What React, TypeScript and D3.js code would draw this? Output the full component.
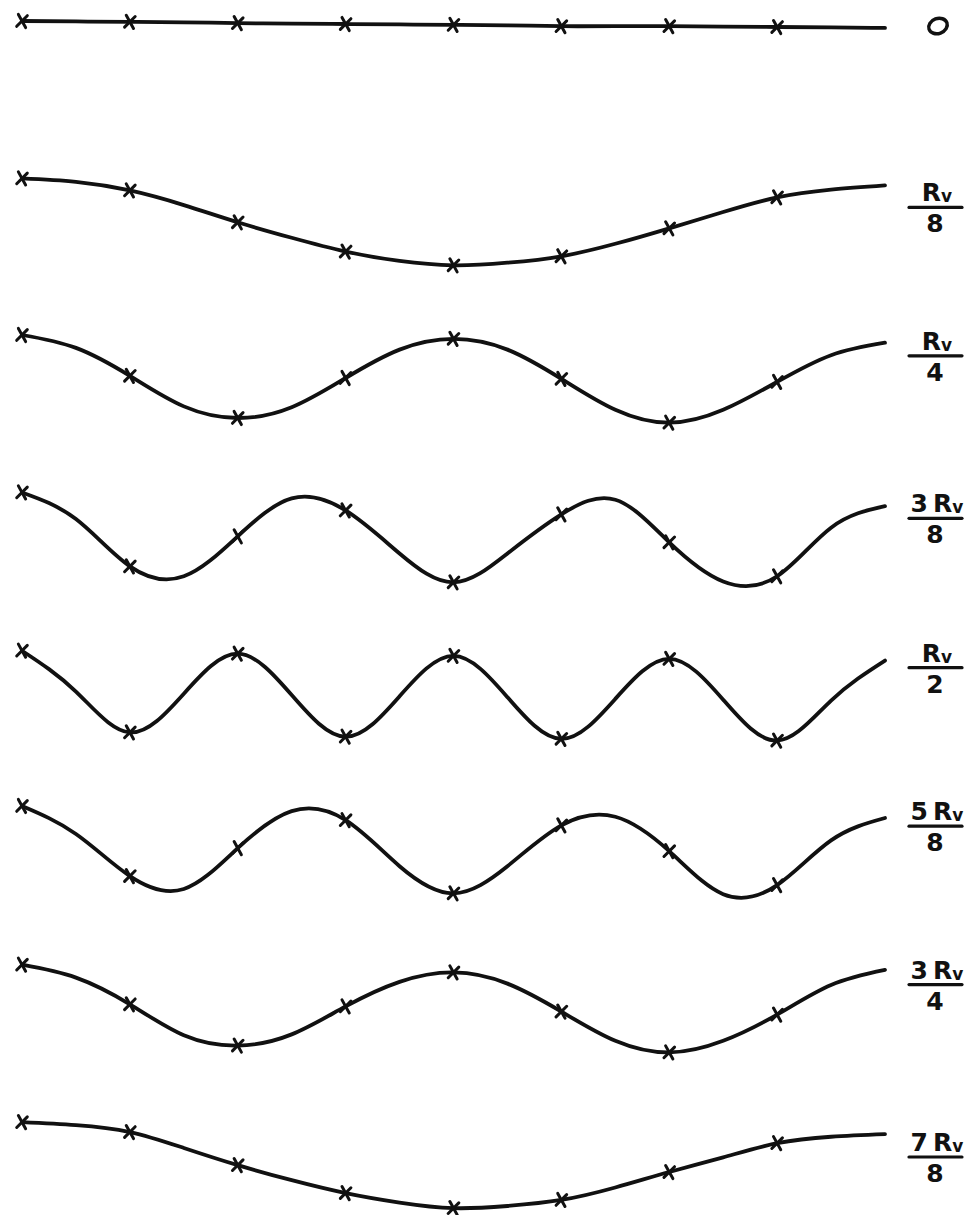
import React from "react";
import * as d3 from "d3";

// Sample instants n = 0..7 (markers) and curve knots at half steps t = 0, 0.5, ..., 8
const markerN = [0, 1, 2, 3, 4, 5, 6, 7];
const knotT = [0, 0.5, 1, 1.5, 2, 2.5, 3, 3.5, 4, 4.5, 5, 5.5, 6, 6.5, 7, 7.5, 8];

// Row labels (frequency k·Rv/8)
const labelNumPrefix = ["", "", "", "3", "", "5", "3", "7"];
const labelDen = ["", "8", "4", "8", "2", "8", "4", "8"];

// Marker values (normalized amplitude)
const markers0 = [1.0, 0.98, 0.95, 0.93, 0.91, 0.88, 0.88, 0.86];
const markers1 = [1.0, 0.72, -0.02, -0.7, -1.02, -0.81, -0.16, 0.56];
const markers2 = [1.02, 0.07, -0.91, 0.02, 0.93, 0.0, -1.02, -0.07];
const markers3 = [1.02, -0.7, 0.0, 0.6, -1.07, 0.51, -0.14, -0.93];
const markers4 = [1.0, -0.9, 0.93, -1.0, 0.88, -1.05, 0.81, -1.09];
const markers5 = [1.05, -0.58, 0.07, 0.72, -0.98, 0.6, 0.0, -0.79];
const markers6 = [1.02, 0.1, -0.86, 0.05, 0.84, -0.07, -1.02, -0.14];
const markers7 = [1.02, 0.79, 0.02, -0.63, -0.98, -0.79, -0.14, 0.53];

// Drawn curve values at half-step knots
const curve0 = [1.0, 0.99, 0.98, 0.97, 0.95, 0.94, 0.93, 0.92, 0.91, 0.9, 0.88, 0.88, 0.88, 0.87, 0.86, 0.85, 0.84];
const curve1 = [1.0, 0.92, 0.72, 0.38, -0.02, -0.38, -0.7, -0.92, -1.02, -0.96, -0.81, -0.52, -0.16, 0.22, 0.56, 0.74, 0.84];
const curve2 = [1.02, 0.72, 0.07, -0.64, -0.91, -0.66, 0.02, 0.68, 0.93, 0.68, 0.0, -0.72, -1.02, -0.72, -0.07, 0.55, 0.84];
const curve3 = [1.02, 0.4, -0.7, -0.93, 0.0, 0.88, 0.6, -0.4, -1.07, -0.4, 0.51, 0.85, -0.14, -1.05, -0.93, 0.2, 0.7];
const curve4 = [1.0, 0.05, -0.9, 0.0, 0.93, -0.03, -1.0, -0.06, 0.88, -0.08, -1.05, -0.12, 0.81, -0.14, -1.09, -0.16, 0.77];
const curve5 = [1.05, 0.4, -0.58, -0.88, 0.07, 0.93, 0.72, -0.35, -0.98, -0.35, 0.6, 0.8, 0.0, -1.0, -0.79, 0.25, 0.77];
const curve6 = [1.02, 0.72, 0.1, -0.62, -0.86, -0.6, 0.05, 0.62, 0.84, 0.58, -0.07, -0.75, -1.02, -0.75, -0.14, 0.55, 0.9];
const curve7 = [1.02, 0.95, 0.79, 0.42, 0.02, -0.33, -0.63, -0.85, -0.98, -0.93, -0.79, -0.5, -0.14, 0.2, 0.53, 0.68, 0.74];

const markerRows = [markers0, markers1, markers2, markers3, markers4, markers5, markers6, markers7];
const curveRows = [curve0, curve1, curve2, curve3, curve4, curve5, curve6, curve7];

// layout
const W = 977;
const H = 1215;
const AMP = 43;
const labelBarOffset = [0, -14, -23, -18, -26, -25, -24, -9];
const INK = "#111";

export default function App() {
  const x = d3.scaleLinear().domain([0, 8]).range([22, 885]);
  const rowCenter = d3.scaleLinear().domain([0, 7]).range([64, 1166]);

  return (
    <svg
      width={W}
      height={H}
      viewBox={`0 0 ${W} ${H}`}
      style={{ position: "absolute", left: 0, top: 0, background: "#fff" }}
    >
      <rect width={W} height={H} fill="#fff" />
      {curveRows.map((curve, i) => {
        const c = rowCenter(i);
        const y = d3.scaleLinear().domain([-1, 1]).range([c + AMP, c - AMP]);
        const line = d3
          .line<number>()
          .x((_, j) => x(knotT[j]))
          .y((v) => y(v))
          .curve(d3.curveNatural);
        const barY = c + labelBarOffset[i];
        return (
          <g key={i}>
            <path d={line(curve) || ""} fill="none" stroke={INK} strokeWidth={3.8} strokeLinecap="round" />
            {markerRows[i].map((v, j) => {
              const mx = x(markerN[j]);
              const my = y(v);
              return (
                <g key={j} transform={`translate(${mx},${my}) rotate(${8})`}>
                  <line x1={-4.5} y1={-6} x2={4.5} y2={6} stroke={INK} strokeWidth={3} strokeLinecap="round" />
                  <line x1={-4.5} y1={6} x2={4.5} y2={-6} stroke={INK} strokeWidth={3} strokeLinecap="round" />
                </g>
              );
            })}
            {i === 0 ? (
              <ellipse
                cx={938}
                cy={c - 38}
                rx={9.5}
                ry={7.5}
                transform={`rotate(-20 938 ${c - 38})`}
                fill="none"
                stroke={INK}
                strokeWidth={3.5}
              />
            ) : (
              <g>
                <text
                  x={937}
                  y={barY - 6}
                  textAnchor="middle"
                  fontFamily="DejaVu Sans, sans-serif"
                  fontWeight={700}
                  fontSize={25}
                  fill={INK}
                >
                  {labelNumPrefix[i]}
                  {labelNumPrefix[i] ? "\u2009" : ""}R
                  <tspan fontSize={17} dy={1}>v</tspan>
                </text>
                <line x1={909} x2={962} y1={barY} y2={barY} stroke={INK} strokeWidth={3.2} strokeLinecap="round" />
                <text
                  x={935}
                  y={barY + 25}
                  textAnchor="middle"
                  fontFamily="DejaVu Sans, sans-serif"
                  fontWeight={700}
                  fontSize={25}
                  fill={INK}
                >
                  {labelDen[i]}
                </text>
              </g>
            )}
          </g>
        );
      })}
    </svg>
  );
}
